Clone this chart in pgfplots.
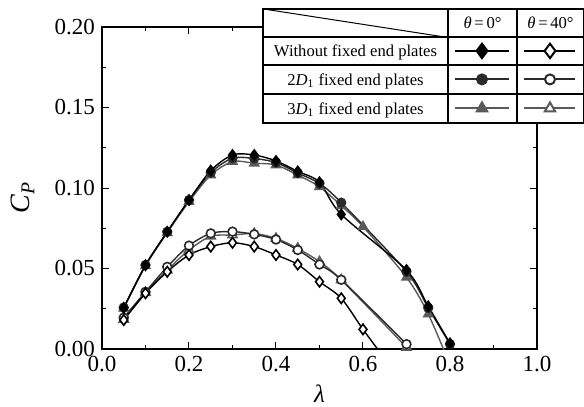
\documentclass[border=0pt]{standalone}
\usepackage{fontspec}
\setmainfont{Liberation Serif}
\usepackage{pgfplots}
\pgfplotsset{compat=1.18}
\definecolor{dgray}{HTML}{2A2A2A}
\definecolor{mgray}{HTML}{5A5A5A}
\newcommand\legfont{\fontsize{8.3}{9}\selectfont}
\tikzset{legtext/.style={black,font=\legfont,inner sep=0pt,anchor=base,text height=,text depth=}}
\pgfplotsset{
  tablelegend/.style={legend image code/.code={%
     \fill[white] (0pt,0pt) rectangle (160.5pt,-57pt);
     \draw[black,line width=0.6pt,solid] (0pt,0pt) rectangle (160.5pt,-57pt);
     \draw[black,line width=0.6pt,solid] (0pt,-14pt) -- (160.5pt,-14pt)
        (0pt,-28pt) -- (160.5pt,-28pt) (0pt,-42.5pt) -- (160.5pt,-42.5pt)
        (92.5pt,0pt) -- (92.5pt,-57pt) (127pt,0pt) -- (127pt,-57pt);
     \draw[black,line width=0.5pt,solid] (0pt,0pt) -- (90.5pt,-14pt);
     \node[legtext] at (109.75pt,-10pt) {\textit{θ}\,=\,0°};
     \node[legtext] at (143.75pt,-10pt) {\textit{θ}\,=\,40°};
     \node[legtext] at (46.25pt,-23.9pt) {Without fixed end plates};
     \node[legtext] at (46.25pt,-38.1pt) {2\textit{D}\textsubscript{1} fixed end plates};
     \node[legtext] at (46.25pt,-52.6pt) {3\textit{D}\textsubscript{1} fixed end plates};
     \draw[black,line width=1pt,mark=diamond*,mark size=3.6pt,mark options={solid,fill=black},mark repeat=2,mark phase=2]
        plot coordinates {(96pt,-21pt) (109.5pt,-21pt) (123pt,-21pt)};
     \draw[black,line width=1pt,mark=diamond*,mark size=3.6pt,mark options={solid,fill=white},mark repeat=2,mark phase=2]
        plot coordinates {(130.5pt,-21pt) (143.5pt,-21pt) (156pt,-21pt)};
     \draw[dgray,line width=1pt,mark=*,mark size=2.5pt,mark options={solid,fill=dgray},mark repeat=2,mark phase=2]
        plot coordinates {(96pt,-35.25pt) (109.5pt,-35.25pt) (123pt,-35.25pt)};
     \draw[dgray,line width=1pt,mark=*,mark size=2.5pt,mark options={solid,fill=white},mark repeat=2,mark phase=2]
        plot coordinates {(130.5pt,-35.25pt) (143.5pt,-35.25pt) (156pt,-35.25pt)};
     \draw[mgray,line width=1pt,mark=triangle*,mark size=3pt,mark options={solid,fill=mgray},mark repeat=2,mark phase=2]
        plot coordinates {(96pt,-49.75pt) (109.5pt,-49.75pt) (123pt,-49.75pt)};
     \draw[mgray,line width=1pt,mark=triangle*,mark size=3pt,mark options={solid,fill=white},mark repeat=2,mark phase=2]
        plot coordinates {(130.5pt,-49.75pt) (143.5pt,-49.75pt) (156pt,-49.75pt)};
  }},
}
\begin{document}
\begin{tikzpicture}
\path[use as bounding box] (-51pt,-29pt) rectangle (241pt,174.5pt);
\begin{axis}[
  scale only axis, width=217.5pt, height=161pt,
  xmin=0, xmax=1, ymin=0, ymax=0.2,
  xtick={0,0.2,0.4,0.6,0.8,1}, ytick={0,0.05,0.1,0.15,0.2},
  minor x tick num=1, minor y tick num=1,
  tick align=inside, major tick length=3.5pt, minor tick length=2pt,
  axis line style={line width=0.6pt},
  every tick/.style={black, line width=0.5pt},
  xticklabel style={/pgf/number format/.cd, fixed, fixed zerofill, precision=1},
  yticklabel style={/pgf/number format/.cd, fixed, fixed zerofill, precision=2},
  /pgf/number format/assume math mode=true,
  tick label style={font=\fontsize{11.5}{12}\selectfont},
  xlabel={\textit{λ}}, ylabel={\textit{C}\textsubscript{\textit{P}}},
  every axis x label/.style={at={(axis description cs:0.5,-0.14)}, anchor=center, font=\fontsize{12.5}{13}\selectfont},
  every axis y label/.style={at={(axis description cs:-0.182,0.47)}, rotate=90, anchor=center, font=\fontsize{14}{15}\selectfont},
  legend style={at={(axis description cs:0.3678,1.0621)}, anchor=north west, draw=none, fill=none, inner sep=0pt,
     /tikz/column sep=0pt, /tikz/row sep=0pt, nodes={inner sep=0pt}},
]
\addlegendimage{tablelegend}\addlegendentry{}

% theta = 40 deg (hollow)
\addplot[forget plot, mgray, line width=0.7pt, smooth, mark=triangle*, mark size=2.6pt, mark options={fill=white, line width=0.8pt}] coordinates {
(0.05,0.0184) (0.10,0.0350) (0.15,0.0490) (0.20,0.0615) (0.25,0.0700) (0.30,0.0708) (0.35,0.0717)
(0.40,0.0687) (0.45,0.0625) (0.50,0.0542) (0.55,0.0429) (0.70,0.0010)};
\addplot[forget plot, dgray, line width=0.7pt, smooth, mark=*, mark size=2.2pt, mark options={fill=white, line width=0.8pt}] coordinates {
(0.05,0.0195) (0.10,0.0355) (0.15,0.0510) (0.20,0.0642) (0.25,0.0718) (0.30,0.0729) (0.35,0.0712)
(0.40,0.0680) (0.45,0.0615) (0.50,0.0525) (0.55,0.0430) (0.70,0.0030)};
\addplot[forget plot, black, line width=0.7pt, smooth, mark=diamond*, mark size=2.6pt, mark options={fill=white, line width=0.8pt}] coordinates {
(0.05,0.0180) (0.10,0.0346) (0.15,0.0480) (0.20,0.0584) (0.25,0.0636) (0.30,0.0660) (0.35,0.0636)
(0.40,0.0584) (0.45,0.0525) (0.50,0.0418) (0.55,0.0315) (0.60,0.0122) (0.65,-0.0060)};
% theta = 0 deg (filled)
\addplot[forget plot, mgray, line width=0.7pt, smooth, mark=triangle*, mark size=2.6pt, mark options={fill=mgray}] coordinates {
(0.05,0.0253) (0.10,0.0516) (0.15,0.0722) (0.20,0.0915) (0.25,0.1080) (0.30,0.1164) (0.35,0.1154)
(0.40,0.1143) (0.45,0.1080) (0.50,0.1008) (0.55,0.0890) (0.60,0.0760) (0.70,0.0445) (0.75,0.0217) (0.80,-0.0100)};
\addplot[forget plot, dgray, line width=0.7pt, smooth, mark=*, mark size=2.2pt, mark options={fill=dgray}] coordinates {
(0.05,0.0258) (0.10,0.0522) (0.15,0.0728) (0.20,0.0925) (0.25,0.1095) (0.30,0.1185) (0.35,0.1183)
(0.40,0.1158) (0.45,0.1093) (0.50,0.1028) (0.55,0.0909) (0.70,0.0480) (0.75,0.0255) (0.80,0.0030)};
\addplot[forget plot, black, line width=0.7pt, smooth, mark=diamond*, mark size=2.6pt, mark options={fill=black}] coordinates {
(0.05,0.0255) (0.10,0.0520) (0.15,0.0728) (0.20,0.0925) (0.25,0.1108) (0.30,0.1205) (0.35,0.1205)
(0.40,0.1168) (0.45,0.1103) (0.50,0.1036) (0.55,0.0836) (0.70,0.0490) (0.75,0.0265) (0.80,0.0035)};
\end{axis}
\end{tikzpicture}
\end{document}
